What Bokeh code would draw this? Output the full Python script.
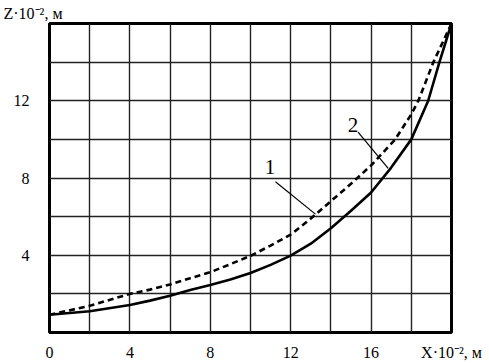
from bokeh.plotting import figure
from bokeh.models import FixedTicker, Range1d, Title
from bokeh.core.properties import value
from bokeh.embed import file_html
from bokeh.resources import INLINE

# curve 1 (solid)
x1 = [0, 2, 4, 5, 6, 7, 8, 9, 10, 11, 12, 13, 14, 15, 16, 17, 18, 18.84, 19.4, 20]
z1 = [0.92, 1.1, 1.42, 1.65, 1.9, 2.2, 2.46, 2.74, 3.08, 3.5, 3.98, 4.6, 5.4, 6.3, 7.25, 8.54, 10.0, 12.0, 14.0, 16.0]
# curve 2 (dashed)
x2 = [0, 2, 4, 5, 6, 7, 8, 9, 10, 11, 12, 13, 14, 15, 16, 17.2, 18, 18.35, 19.1, 20]
z2 = [0.92, 1.38, 2.0, 2.22, 2.49, 2.81, 3.12, 3.54, 3.97, 4.5, 5.07, 5.9, 6.8, 7.7, 8.65, 10.0, 11.3, 12.0, 14.0, 16.0]

x_ticks = [0, 4, 8, 12, 16, 20]
x_tick_labels = {20: "X·10⁻², м"}
y_ticks = [4, 8, 12]
x_grid = list(range(0, 21, 2))
y_grid = list(range(0, 17, 2))
y_title = "Z·10⁻², м"

# curve number labels and leader lines
lab_text = ["1", "2"]
lab_x = [10.97, 15.1]
lab_y = [8.57, 10.75]
lead_x0 = [11.24, 15.35]
lead_y0 = [7.81, 10.37]
lead_x1 = [13.23, 16.85]
lead_y1 = [6.13, 8.5]

FONT = "Liberation Serif"

p = figure(width=489, height=363, output_backend="svg", toolbar_location=None,
           x_range=Range1d(0, 20), y_range=Range1d(0, 16),
           min_border_left=49, min_border_right=38, min_border_top=23, min_border_bottom=29)
p.background_fill_color = "white"
p.border_fill_color = "white"
p.outline_line_color = "black"
p.outline_line_width = 3

p.xgrid.ticker = FixedTicker(ticks=x_grid)
p.ygrid.ticker = FixedTicker(ticks=y_grid)
for g in (p.xgrid, p.ygrid):
    g.grid_line_color = "#222222"
    g.grid_line_width = 1.4
    g.grid_line_alpha = 1.0

p.xaxis.ticker = FixedTicker(ticks=x_ticks)
p.xaxis.major_label_overrides = x_tick_labels
p.yaxis.ticker = FixedTicker(ticks=y_ticks)
for ax in (p.xaxis, p.yaxis):
    ax.axis_line_color = None
    ax.major_tick_line_color = None
    ax.minor_tick_line_color = None
    ax.major_label_text_font = FONT
    ax.major_label_text_font_size = "16px"
    ax.major_label_text_color = "black"
p.xaxis.major_label_standoff = 5
p.yaxis.major_label_standoff = 14

p.line(x1, z1, line_color="black", line_width=2.6)
p.line(x2, z2, line_color="black", line_width=2.6, line_dash="6 4")

p.segment(x0=lead_x0, y0=lead_y0, x1=lead_x1, y1=lead_y1, line_color="black", line_width=1.2)
p.text(x=lab_x, y=lab_y, text=lab_text, text_font=value(FONT), text_font_size="21px",
       text_align="center", text_baseline="middle", text_color="black")

p.add_layout(Title(text=y_title, align="left", offset=-46, standoff=3,
                   text_font=FONT, text_font_size="16px", text_font_style="normal",
                   text_color="black", vertical_align="bottom", text_line_height=0.9), "above")

open("out.html", "w").write(file_html(p, INLINE))
